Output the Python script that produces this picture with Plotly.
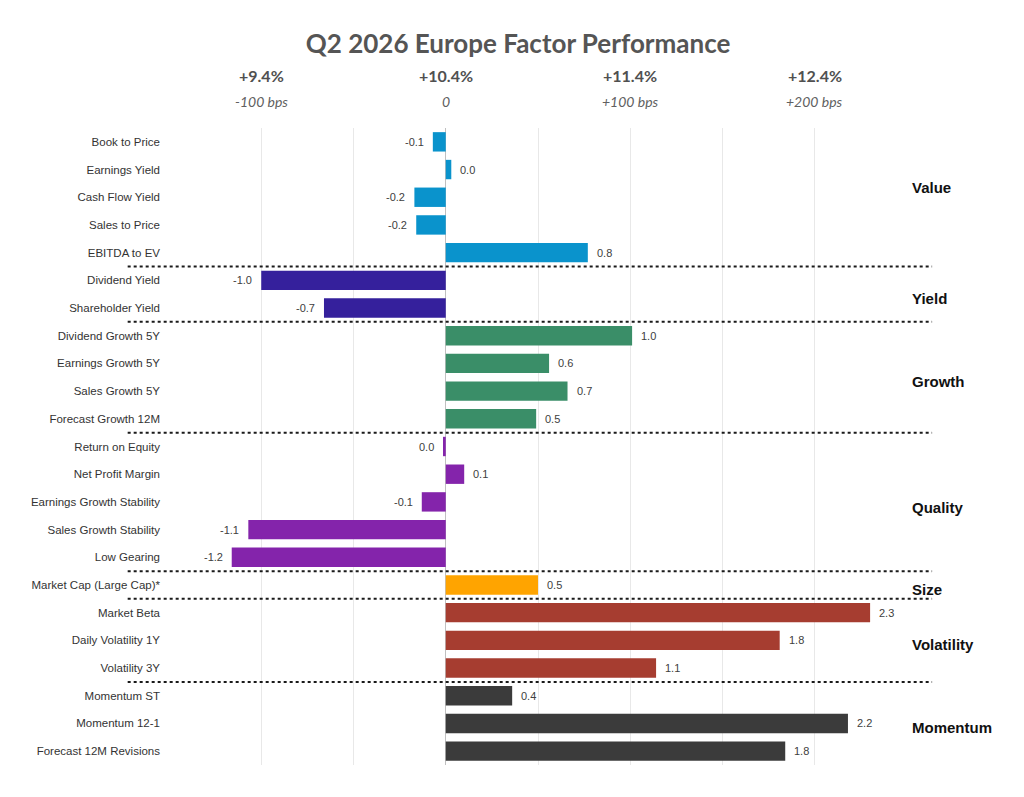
import plotly.graph_objects as go

# factor data, top to bottom
factors = [
    "Book to Price", "Earnings Yield", "Cash Flow Yield", "Sales to Price", "EBITDA to EV",
    "Dividend Yield", "Shareholder Yield",
    "Dividend Growth 5Y", "Earnings Growth 5Y", "Sales Growth 5Y", "Forecast Growth 12M",
    "Return on Equity", "Net Profit Margin", "Earnings Growth Stability",
    "Sales Growth Stability", "Low Gearing",
    "Market Cap (Large Cap)*",
    "Market Beta", "Daily Volatility 1Y", "Volatility 3Y",
    "Momentum ST", "Momentum 12-1", "Forecast 12M Revisions",
]
values = [
    -0.07, 0.03, -0.17, -0.16, 0.77,
    -1.0, -0.66,
    1.01, 0.56, 0.66, 0.49,
    -0.015, 0.1, -0.13, -1.07, -1.16,
    0.5,
    2.30, 1.81, 1.14,
    0.36, 2.18, 1.84,
]
groups = ["Value", "Yield", "Growth", "Quality", "Size", "Volatility", "Momentum"]
group_sizes = [5, 2, 4, 5, 1, 3, 3]
group_colors = ["#0a93cc", "#35209c", "#3a8e68", "#8424ab", "#ffa400", "#a63d30", "#3b3b3b"]
group_label_pos = [1.65, 5.65, 8.65, 13.2, 16.15, 18.15, 21.15]

top_ticks = [-1, 0, 1, 2]
top_pct = ["+9.4%", "+10.4%", "+11.4%", "+12.4%"]
top_bps = ["-100 bps", "0", "+100 bps", "+200 bps"]

colors = []
for c, n in zip(group_colors, group_sizes):
    colors += [c] * n
labels = [f"{v:.1f}".replace("-0.0", "0.0") for v in values]

fig = go.Figure(go.Bar(
    x=values, y=factors, orientation="h",
    marker=dict(color=colors, line=dict(width=0)),
    hovertext=labels, hoverinfo="y+text",
))

# value labels a bit away from the bar ends
for f, v, t in zip(factors, values, labels):
    fig.add_annotation(text=t, x=v, y=f, xref="x", yref="y", showarrow=False,
                       xanchor="left" if v >= 0 else "right", xshift=7 if v >= 0 else -7,
                       font=dict(size=11, color="#404040", family="Liberation Sans"))

# dotted separators between groups
pos = 0
for n in group_sizes[:-1]:
    pos += n
    fig.add_shape(type="line", xref="paper", yref="y",
                  x0=-0.056, x1=1.034, y0=pos - 0.5, y1=pos - 0.5,
                  line=dict(color="#1a1a1a", width=2, dash="dot"))

for g, yp in zip(groups, group_label_pos):
    fig.add_annotation(text="<b>" + g + "</b>", xref="paper", yref="y",
                       x=1.004, y=yp, xanchor="left", yanchor="middle", showarrow=False,
                       font=dict(size=15, color="#111111", family="Liberation Sans"))

for xv, p, b in zip(top_ticks, top_pct, top_bps):
    fig.add_annotation(text="<b>" + p + "</b>", xref="x", yref="paper",
                       x=xv, y=1.083, yanchor="middle", showarrow=False,
                       font=dict(size=16, color="#505050", family="Lato"))
    fig.add_annotation(text="<i>" + b + "</i>", xref="x", yref="paper",
                       x=xv, y=1.042, yanchor="middle", showarrow=False,
                       font=dict(size=14, color="#606060", family="Lato"))

fig.update_layout(
    width=1008, height=781,
    margin=dict(l=161, r=109, t=120, b=24),
    paper_bgcolor="white", plot_bgcolor="white",
    title=dict(text="<b>Q2 2026 Europe Factor Performance</b>", x=0.506, y=0.954,
               xanchor="center", yanchor="middle",
               font=dict(size=26, color="#555555", family="Lato")),
    bargap=0.3,
    showlegend=False,
    xaxis=dict(range=[-1.5, 2.5], dtick=0.5, tick0=0, showticklabels=False,
               showgrid=True, gridcolor="#e8e8e8", gridwidth=1,
               zeroline=True, zerolinecolor="#c0c0c0", zerolinewidth=1),
    yaxis=dict(autorange="reversed", showgrid=False, ticks="", ticklabelstandoff=8,
               tickfont=dict(size=11.5, color="#333333", family="Liberation Sans")),
)

fig.write_html("out.html")
